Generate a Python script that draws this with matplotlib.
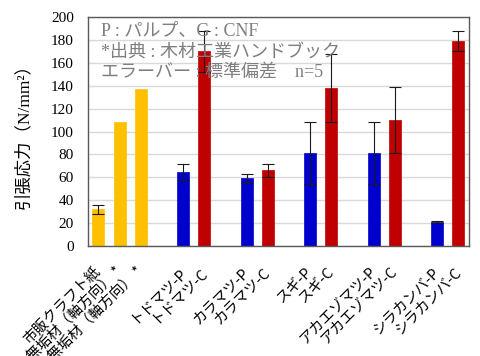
import matplotlib
matplotlib.use("Agg")
import matplotlib.pyplot as plt
import numpy as np

plt.rcParams['font.family'] = ['Noto Sans CJK JP', 'DejaVu Sans']

labels = ["市販クラフト紙", "無垢材（軸方向） *", "無垢材（軸方向） *",
          "トドマツ-P", "トドマツ-C", "カラマツ-P", "カラマツ-C",
          "スギ-P", "スギ-C", "アカエゾマツ-P", "アカエゾマツ-C",
          "シラカンバ-P", "シラカンバ-C"]
slots = [0, 1, 2, 4, 5, 7, 8, 10, 11, 13, 14, 16, 17]
values = [32, 108, 137, 65, 170, 59, 66, 81, 138, 81, 110, 21, 179]
errors = [4, None, None, 7, 18, 4, 6, 27, 30, 27, 29, 1, 9]
kinds = ["ref", "ref", "ref", "P", "C", "P", "C", "P", "C", "P", "C", "P", "C"]

colors = {"ref": "#FFC000", "P": "#0000CC", "C": "#C00000"}

fig = plt.figure(figsize=(4.8, 3.56), dpi=100)
ax = fig.add_axes([0.183, 0.309, 0.794, 0.643])

ax.set_axisbelow(True)
ax.yaxis.grid(True, color="#D9D9D9", linewidth=1.0)
ax.set_xlim(-0.5, 17.5)
ax.set_ylim(0, 200)
ax.set_yticks(np.arange(0, 201, 20))

for s, v, e, k in zip(slots, values, errors, kinds):
    ax.bar(s, v, width=0.56, color=colors[k], edgecolor=colors[k], linewidth=0.5, zorder=2)
    if e is not None:
        ax.errorbar(s, v, yerr=e, fmt='none', ecolor='#1a1a1a', elinewidth=0.8,
                    capsize=4.3, capthick=0.8, zorder=3)

ax.set_xticks(slots)
ax.set_xticklabels(labels, rotation=45, ha='right', va='center',
                   rotation_mode='anchor', fontsize=10.5)
ax.tick_params(axis='x', length=0, pad=17)
ax.tick_params(axis='y', length=0, pad=10)
for t in ax.get_yticklabels():
    t.set_family(['Liberation Serif'])
    t.set_fontsize(11)

for sp in ax.spines.values():
    sp.set_color('#595959')
    sp.set_linewidth(1.0)

ax.set_ylabel("引張応力（N/mm²）", fontsize=12.5,
              family=['Liberation Serif', 'Noto Sans CJK JP'])
ax.yaxis.set_label_coords(-0.145, 0.5)

notes = ["P : パルプ、G : CNF", "*出典 : 木材工業ハンドブック", "エラーバー : 標準偏差　n=5"]
ys = [31, 52, 72]
for txt, yp in zip(notes, ys):
    fig.text(101 / 480, 1 - yp / 356, txt, fontsize=13, color='#7f7f7f',
             ha='left', va='center', family=['Liberation Serif', 'Noto Sans CJK JP'])

fig.savefig("out.png", dpi=100)
